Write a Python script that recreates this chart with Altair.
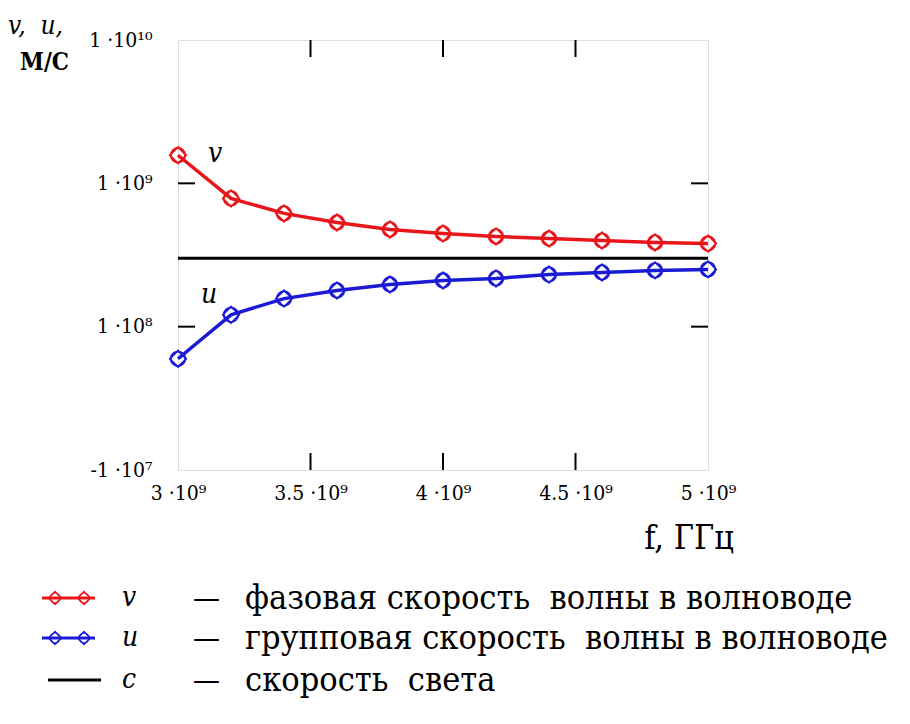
import altair as alt
import pandas as pd

# ---------------- data ----------------
freq = [3.0e9, 3.2e9, 3.4e9, 3.6e9, 3.8e9, 4.0e9, 4.2e9, 4.4e9, 4.6e9, 4.8e9, 5.0e9]
v_phase = [1.57e9, 7.85e8, 6.17e8, 5.33e8, 4.77e8, 4.47e8, 4.26e8, 4.12e8, 3.99e8, 3.87e8, 3.80e8]
u_group = [5.97e7, 1.21e8, 1.57e8, 1.79e8, 1.97e8, 2.10e8, 2.17e8, 2.31e8, 2.39e8, 2.47e8, 2.51e8]
c_light = 3.0e8

x_ticks = [3.0e9, 3.5e9, 4.0e9, 4.5e9, 5.0e9]
x_tick_labels = ["3 ·10⁹", "3.5 ·10⁹", "4 ·10⁹", "4.5 ·10⁹", "5 ·10⁹"]
y_ticks = [1e7, 1e8, 1e9, 1e10]
y_tick_labels = ["-1 ·10⁷", "1 ·10⁸", "1 ·10⁹", "1 ·10¹⁰"]
inner_x_ticks = [3.5e9, 4.0e9, 4.5e9]
inner_y_ticks = [1e8, 1e9]

legend_symbols = ["v", "u", "c"]
legend_texts = ["фазовая скорость\u00a0 волны в волноводе",
                "групповая скорость\u00a0 волны в волноводе",
                "скорость\u00a0 света"]
legend_colors = ["#e8161a", "#1b1bd6", "#000000"]

RED = legend_colors[0]
BLUE = legend_colors[1]
FONT = "DejaVu Serif Condensed, DejaVu Serif"

W, H = 530, 430

def ternary(values, labels):
    expr = "'" + labels[-1] + "'"
    for i in range(len(values) - 2, -1, -1):
        mid = (values[i] + values[i + 1]) / 2
        expr = f"datum.value < {mid} ? '{labels[i]}' : ({expr})"
    return expr

def ternary_log(values, labels):
    expr = "'" + labels[-1] + "'"
    for i in range(len(values) - 2, -1, -1):
        mid = (values[i] * values[i + 1]) ** 0.5
        expr = f"datum.value < {mid} ? '{labels[i]}' : ({expr})"
    return expr

df = pd.DataFrame({"f": freq, "v": v_phase, "u": u_group})

xs = alt.Scale(domain=[3.0e9, 5.0e9], nice=False, zero=False)
ys = alt.Scale(type="log", domain=[1e7, 1e10], nice=False)

xaxis = alt.Axis(values=x_ticks, labelExpr=ternary(x_ticks, x_tick_labels), domain=False,
                 ticks=False, grid=False, labelFont=FONT, labelFontSize=21, labelPadding=12,
                 labelColor="black", title=None, labelFlush=False)
yaxis = alt.Axis(values=y_ticks, labelExpr=ternary_log(y_ticks, y_tick_labels), domain=False,
                 ticks=False, grid=False, labelFont=FONT, labelFontSize=21, labelPadding=26,
                 labelColor="black", title=None, labelFlush=False)

base = alt.Chart(df)

v_line = base.mark_line(color=RED, strokeWidth=3.5).encode(
    x=alt.X("f:Q", scale=xs, axis=xaxis), y=alt.Y("v:Q", scale=ys, axis=yaxis))
u_line = base.mark_line(color=BLUE, strokeWidth=3.5).encode(
    x=alt.X("f:Q", scale=xs), y=alt.Y("u:Q", scale=ys))

def markers(field, color):
    c1 = base.mark_point(shape="circle", filled=False, color=color, strokeWidth=1.8, size=210,
                         opacity=1).encode(x=alt.X("f:Q", scale=xs), y=alt.Y(f"{field}:Q", scale=ys))
    c2 = base.mark_point(shape="diamond", filled=False, color=color, strokeWidth=1.8, size=270,
                         opacity=1).encode(x=alt.X("f:Q", scale=xs), y=alt.Y(f"{field}:Q", scale=ys))
    return c1 + c2

c_df = pd.DataFrame({"c": [c_light]})
c_rule = alt.Chart(c_df).mark_rule(color="black", strokeWidth=3).encode(
    y=alt.Y("c:Q", scale=ys))

# inner ticks
tx = pd.DataFrame({"t": inner_x_ticks})
tick_b = alt.Chart(tx).mark_rule(color="black", strokeWidth=2).encode(
    x=alt.X("t:Q", scale=xs), y=alt.value(H), y2=alt.value(H - 17))
tick_t = alt.Chart(tx).mark_rule(color="black", strokeWidth=2).encode(
    x=alt.X("t:Q", scale=xs), y=alt.value(0), y2=alt.value(17))
ty = pd.DataFrame({"t": inner_y_ticks})
tick_l = alt.Chart(ty).mark_rule(color="black", strokeWidth=2).encode(
    y=alt.Y("t:Q", scale=ys), x=alt.value(0), x2=alt.value(17))
tick_r = alt.Chart(ty).mark_rule(color="black", strokeWidth=2).encode(
    y=alt.Y("t:Q", scale=ys), x=alt.value(W), x2=alt.value(W - 17))

one = pd.DataFrame({"a": [0]})

def txt(text, x, y, size, italic=False, bold=False, align="left", color="black",
        baseline="alphabetic", font=FONT):
    return alt.Chart(one).mark_text(text=text, font=font, fontSize=size,
                                    fontStyle="italic" if italic else "normal",
                                    fontWeight="bold" if bold else "normal",
                                    align=align, baseline=baseline, color=color).encode(
        x=alt.value(x), y=alt.value(y))

# page coords -> chart coords: x - 178, y - 40
annots = [
    txt("v,\u00a0 u,", 8 - 178, 34 - 40, 26, italic=True),
    txt("М/С", 20 - 178, 70 - 40, 24, bold=True),
    txt("v", 208 - 178, 162 - 40, 28, italic=True),
    txt("u", 201 - 178, 303 - 40, 28, italic=True),
    txt("f, ГГц", 689 - 178, 549 - 40, 34, align="center"),
]

legend_layers = []
row_y = [598, 638, 680]
for i, (sym, desc, col) in enumerate(zip(legend_symbols, legend_texts, legend_colors)):
    yy = row_y[i] - 40
    if i < 2:
        x1, x2 = 42 - 178, 95 - 178
    else:
        x1, x2 = 48 - 178, 101 - 178
    legend_layers.append(alt.Chart(one).mark_rule(color=col, strokeWidth=3).encode(
        x=alt.value(x1), x2=alt.value(x2), y=alt.value(yy)))
    if i < 2:
        for mx in [55 - 178, 84 - 178]:
            legend_layers.append(alt.Chart(one).mark_point(shape="diamond", filled=False, color=col,
                                                           strokeWidth=1.5, size=160, opacity=1).encode(
                x=alt.value(mx), y=alt.value(yy)))
            legend_layers.append(alt.Chart(one).mark_point(shape="circle", filled=False, color=col,
                                                           strokeWidth=1.2, size=100, opacity=1).encode(
                x=alt.value(mx), y=alt.value(yy)))
    legend_layers.append(txt(sym, 122 - 178, yy + 8, 28, italic=True))
    legend_layers.append(txt("—", 193 - 178, yy + 10, 30))
    legend_layers.append(txt(desc, 245 - 178, yy + 11, 34))

chart = alt.layer(
    c_rule, v_line, u_line, markers("v", RED), markers("u", BLUE),
    tick_b, tick_t, tick_l, tick_r, *annots, *legend_layers
).properties(
    width=W, height=H,
    autosize=alt.AutoSizeParams(type="none"),
    padding={"left": 170, "top": 32, "right": 194, "bottom": 246},
).configure_view(stroke="black", strokeWidth=2).configure(background="white")

chart.save("out.html", embed_options={"renderer": "svg", "actions": False})
